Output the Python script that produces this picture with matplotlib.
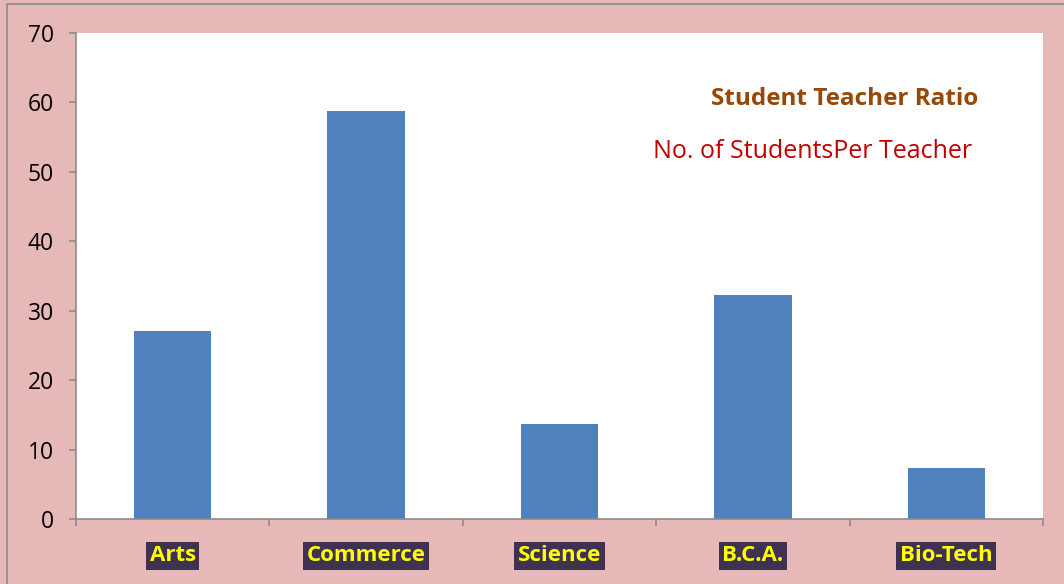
import matplotlib.pyplot as plt
from matplotlib.patches import Rectangle

categories = ["Arts", "Commerce", "Science", "B.C.A.", "Bio-Tech"]
ratios = [27.1, 58.8, 13.7, 32.3, 7.35]

plt.rcParams['font.family'] = ['Open Sans', 'DejaVu Sans']

fig = plt.figure(figsize=(10.64, 5.84), dpi=100)
fig.patch.set_facecolor('#E6B8B7')
# outer frame
fig.add_artist(Rectangle((7/1064, -0.01), 1.2, 1 - 4/584 + 0.01, transform=fig.transFigure,
                         fill=False, edgecolor='#8c8c8c', linewidth=1.2))

ax = fig.add_axes([76/1064, 1 - 519/584, (1043 - 76)/1064, (519 - 33)/584])
ax.set_facecolor('white')

x = list(range(len(categories)))
ax.bar(x, ratios, width=0.4, color='#4F81BD', zorder=2)

ax.set_xlim(-0.5, len(categories) - 0.5)
ax.set_ylim(0, 70)
ax.set_yticks(range(0, 71, 10))
ax.tick_params(axis='y', direction='out', length=5, color='#8c8c8c', width=1.2,
               labelsize=16.5, pad=11)

ax.set_xticks([i - 0.5 for i in range(len(categories) + 1)])
ax.set_xticklabels([])
ax.tick_params(axis='x', direction='out', length=5, color='#8c8c8c', width=1.2)
ax.set_xticks(x, minor=True)
ax.set_xticklabels(categories, minor=True, fontsize=16, fontweight='bold', color='yellow')
ax.tick_params(axis='x', which='minor', length=0, pad=19)
for lbl in ax.get_xticklabels(minor=True):
    lbl.set_bbox(dict(facecolor='#3F3151', edgecolor='none', pad=2.5))

for s in ['top', 'right']:
    ax.spines[s].set_visible(False)
for s in ['left', 'bottom']:
    ax.spines[s].set_color('#8c8c8c')
    ax.spines[s].set_linewidth(1.2)

fig.text(845/1064, 1 - 99/584, "Student Teacher Ratio", ha='center', va='center',
         fontsize=17.5, fontweight='bold', color='#974806')
fig.text(813/1064, 1 - 151/584, "No. of StudentsPer Teacher", ha='center', va='center',
         fontsize=18, color='#C00000')

fig.savefig('out.png', dpi=100, facecolor=fig.get_facecolor())
